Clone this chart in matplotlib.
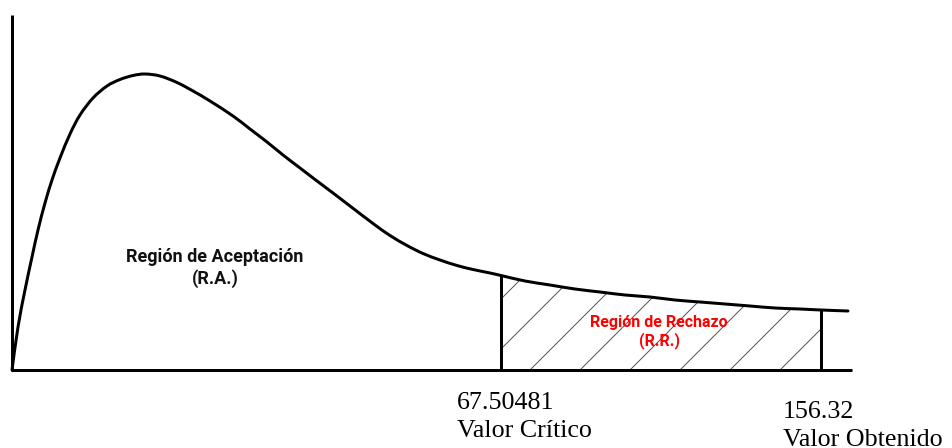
import matplotlib
matplotlib.use("Agg")
import matplotlib.pyplot as plt
from matplotlib.path import Path
from matplotlib.patches import PathPatch
import numpy as np

# Curve (schematic units: x ~ horizontal position, h ~ height above baseline)
curve_x = [12, 18, 25, 32, 38, 45, 52, 60, 70, 80, 93, 107, 120, 133, 145, 160, 177, 193, 210,
           233, 250, 267, 283, 300, 317, 333, 350, 373, 390, 407, 423, 440, 457, 473, 490, 501,
           525, 550, 575, 600, 625, 650, 675, 700, 725, 750, 775, 800, 821, 848]
curve_h = [0, 43, 80, 113, 140, 167, 190, 212, 236, 255, 272, 284, 290.5, 294.5, 296, 294, 287.5, 279, 269,
           254, 241, 228, 215, 202, 189, 177, 164, 146.5, 134.5, 124.5, 116.5, 110, 104.5, 100.5, 97, 94.5,
           89, 85, 81, 78, 75, 73, 70, 68, 66, 64, 62, 61, 60, 59]

critical_x = 501
obtained_x = 821
critical_label = "67.50481\nValor Crítico"
obtained_label = "156.32\nValor Obtenido"
accept_label = "Región de Aceptación\n(R.A.)"
reject_label = "Región de Rechazo\n(R.R.)"

DPI = 300
W, H = 952, 448
pt = 72.0 / DPI  # points per pixel

plt.rcParams['hatch.linewidth'] = 1.0 * pt
fig = plt.figure(figsize=(W / DPI, H / DPI), dpi=DPI)
ax = fig.add_axes([0, 0, 1, 1])
ax.set_xlim(0, W)
ax.set_ylim(-(H - 370), 370)
ax.axis('off')

cx = np.array(curve_x, dtype=float)
ch = np.array(curve_h, dtype=float)

# axes lines
ax.plot([12, 12], [0, 355], color='black', lw=3 * pt, solid_capstyle='butt')
ax.plot([10.5, 852], [0, 0], color='black', lw=3 * pt, solid_capstyle='butt')

# rejection region hatch
mask = (cx >= critical_x) & (cx <= obtained_x)
ax.fill_between(cx[mask], 0, ch[mask], facecolor='none', edgecolor='#555555',
                hatch='//', linewidth=0)

# curve: smooth Bezier path through the read points (Catmull-Rom)
P = np.column_stack([cx, ch])
verts = [P[0]]
codes = [Path.MOVETO]
n = len(P)
for i in range(n - 1):
    p0 = P[i - 1] if i > 0 else P[i]
    p1 = P[i]
    p2 = P[i + 1]
    p3 = P[i + 2] if i + 2 < n else P[i + 1]
    c1 = p1 + (p2 - p0) / 6.0
    c2 = p2 - (p3 - p1) / 6.0
    verts += [c1, c2, p2]
    codes += [Path.CURVE4] * 3
ax.add_patch(PathPatch(Path(verts, codes), facecolor='none', edgecolor='black',
                       lw=3 * pt, capstyle='round', joinstyle='round'))

# vertical lines
hc = np.interp(critical_x, cx, ch)
ho = np.interp(obtained_x, cx, ch)
ax.plot([critical_x, critical_x], [0, hc], color='black', lw=3 * pt)
ax.plot([obtained_x, obtained_x], [0, ho], color='black', lw=3 * pt)

# texts
ax.text(215, 370 - 268, accept_label, ha='center', va='center', fontsize=18 * pt,
        family='Roboto', weight='bold', color='#111111', linespacing=1.25)
ax.text(659, 370 - 332, reject_label, ha='center', va='center', fontsize=16 * pt,
        family='Roboto', weight='bold', color='#ff0000', linespacing=1.1)
ax.text(457, 370 - 417, critical_label, ha='left', va='center', fontsize=26 * pt,
        family='Liberation Serif', color='black', linespacing=1.3)
ax.text(783, 370 - 426, obtained_label, ha='left', va='center', fontsize=26 * pt,
        family='Liberation Serif', color='black', linespacing=1.3)

fig.savefig('out.png', dpi=DPI, facecolor='white')
